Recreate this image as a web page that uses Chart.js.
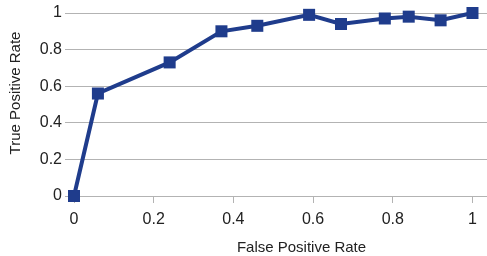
<!DOCTYPE html>
<html>
<head>
<meta charset="utf-8">
<script src="https://cdn.jsdelivr.net/npm/chart.js@4"></script>
<style>
  html, body { margin: 0; padding: 0; background: #fff; overflow: hidden; }
  /* a bit wider than the window: the right padding Chart.js keeps for the markers falls outside */
  #wrap { width: 496px; height: 256px; }
</style>
</head>
<body>
<div id="wrap"><canvas id="roc"></canvas></div>
<script>
(function() {
    'use strict';

    // values
    var fpr = [0, 0.06, 0.24, 0.37, 0.46, 0.59, 0.67, 0.78, 0.84, 0.92, 1];
    var tpr = [0, 0.56, 0.73, 0.90, 0.93, 0.99, 0.94, 0.97, 0.98, 0.96, 1];
    var xTicks = [0, 0.2, 0.4, 0.6, 0.8, 1];
    var yTicks = [0, 0.2, 0.4, 0.6, 0.8, 1];
    var xTitle = 'False Positive Rate';
    var yTitle = 'True Positive Rate';

    var blue = '#1f3c8c',
        grey = '#b3b3b3',
        ink = '#222',
        font = 'Liberation Sans, Arial, sans-serif';

    var points = [];
    for (var i = 0; i < fpr.length; i++) {
        points.push({ x: fpr[i], y: tpr[i] });
    }

    function fixTicks(list) {
        return function(scale) {
            scale.ticks = list.map(function(v) { return { value: v }; });
        };
    }

    // the original puts both axis titles a little off centre, so draw them here
    var axisTitles = {
        id: 'axisTitles',
        afterDraw: function(chart) {
            var ctx = chart.ctx;
            ctx.save();
            ctx.font = '15px ' + font;
            ctx.fillStyle = ink;
            ctx.textAlign = 'center';
            ctx.textBaseline = 'middle';
            ctx.fillText(xTitle, 301.5, 248);
            ctx.translate(16, 93);
            ctx.rotate(-Math.PI / 2);
            ctx.fillText(yTitle, 0, 0);
            ctx.restore();
        }
    };

    new Chart(document.getElementById('roc').getContext('2d'), {
        type: 'line',
        data: {
            datasets: [{
                data: points,
                borderColor: blue,
                backgroundColor: blue,
                borderWidth: 4,
                pointStyle: 'rect',
                pointRadius: 8.5,
                pointHoverRadius: 8.5,
                pointBorderWidth: 0,
                fill: false,
                tension: 0,
                clip: false
            }]
        },
        options: {
            responsive: true,
            maintainAspectRatio: false,
            animation: false,
            layout: { padding: { top: 13, left: 0, right: 0, bottom: 0 } },
            plugins: {
                legend: { display: false },
                tooltip: { enabled: false }
            },
            scales: {
                x: {
                    type: 'linear',
                    min: -0.0226,
                    max: 1.0377,
                    afterBuildTicks: fixTicks(xTicks),
                    afterFit: function(scale) { scale.height = 60; },
                    border: { display: false },
                    grid: {
                        drawOnChartArea: false,
                        drawTicks: true,
                        tickLength: 7,
                        color: grey
                    },
                    ticks: {
                        color: ink,
                        padding: 7,
                        maxRotation: 0,
                        font: { family: font, size: 16 },
                        callback: function(v) { return String(Math.round(v * 10) / 10); }
                    },
                    title: { display: false }
                },
                y: {
                    type: 'linear',
                    min: 0,
                    max: 1,
                    afterBuildTicks: fixTicks(yTicks),
                    afterFit: function(scale) { scale.width = 65; },
                    border: { display: false },
                    grid: {
                        drawTicks: false,
                        color: grey
                    },
                    ticks: {
                        color: ink,
                        padding: 3,
                        font: { family: font, size: 16 },
                        callback: function(v) { return String(Math.round(v * 10) / 10); }
                    },
                    title: { display: false }
                }
            }
        },
        plugins: [axisTitles]
    });
})();
</script>
</body>
</html>
